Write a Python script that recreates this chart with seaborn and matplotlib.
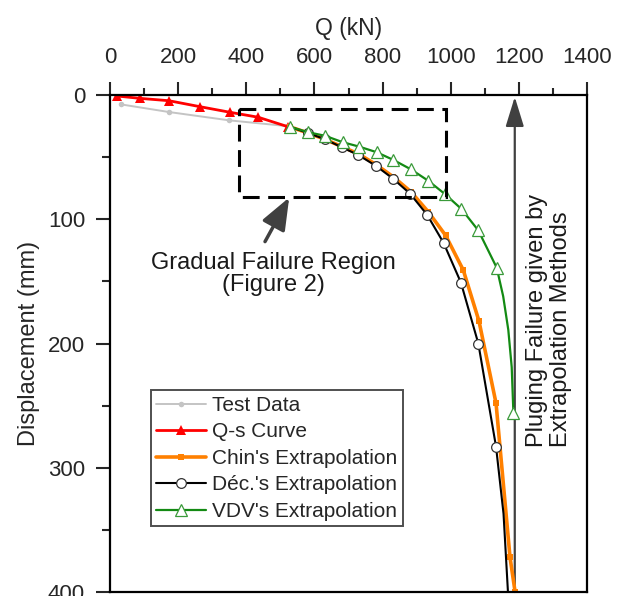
import matplotlib
matplotlib.use("Agg")
import matplotlib.pyplot as plt
from matplotlib.patches import Rectangle
from matplotlib.ticker import MultipleLocator
import seaborn as sns
import pandas as pd

# ---- data ----
test_q = [31, 173, 350, 519]
test_s = [7.5, 13.7, 20.4, 25.0]

qs_q = [20, 88, 173, 264, 352, 435, 522]
qs_s = [0.8, 2.7, 4.6, 9.4, 13.9, 17.9, 25.5]

chin_q = [527, 580, 630, 680, 730, 781, 832, 883, 934, 985, 1037, 1083, 1133, 1174, 1189]
chin_s = [25.5, 30.5, 35.5, 41.5, 47.5, 56.0, 66.0, 77.8, 94.0, 113.0, 141.0, 182.0, 248.0, 372.0, 400.0]

dec_q = [527, 580, 630, 680, 729, 781, 832, 881, 931, 979, 1030, 1081, 1133, 1155, 1168]
dec_s = [25.5, 30.5, 35.5, 42.0, 48.3, 57.1, 67.6, 79.5, 96.5, 119.0, 151.0, 200.0, 283.0, 337.0, 400.0]
dec_marks = [1, 2, 3, 4, 5, 6, 7, 8, 9, 10, 11, 12]

vdv_q = [527, 582, 631, 683, 732, 783, 832, 883, 934, 982, 1031, 1081, 1135, 1154, 1169, 1179, 1184]
vdv_s = [25.5, 30.0, 32.8, 38.0, 41.6, 46.1, 52.3, 59.8, 69.0, 79.5, 91.6, 109.0, 139.0, 162.0, 189.0, 219.0, 256.0]
vdv_marks = [0, 1, 2, 3, 4, 5, 6, 7, 8, 9, 10, 11, 12, 16]

labels = ["Test Data", "Q-s Curve", "Chin's Extrapolation", "Déc.'s Extrapolation", "VDV's Extrapolation"]

x_ticks = [0, 200, 400, 600, 800, 1000, 1200, 1400]
y_ticks = [0, 100, 200, 300, 400]

region_q = (380, 985)
region_s = (11, 82)
plug_q = 1188

sns.set_style("white")
plt.rcParams["font.family"] = ["Liberation Sans", "DejaVu Sans"]

fig = plt.figure(figsize=(6.24, 5.96), dpi=100)
ax = fig.add_axes([110 / 624, 1 - 592 / 596, 477 / 624, 497 / 596])

def df(q, s):
    return pd.DataFrame({"Q": q, "s": s})

sns.lineplot(data=df(test_q, test_s), x="Q", y="s", ax=ax, sort=False, estimator=None,
             color="#c4c4c4", lw=1.4, marker="o", markersize=4, markeredgewidth=0,
             label=labels[0])
sns.lineplot(data=df(qs_q, qs_s), x="Q", y="s", ax=ax, sort=False, estimator=None,
             color="#ff0000", lw=2.0, marker="^", markersize=7, markeredgewidth=0,
             label=labels[1])
sns.lineplot(data=df(chin_q, chin_s), x="Q", y="s", ax=ax, sort=False, estimator=None,
             color="#ff8000", lw=2.6, marker="s", markersize=4, markeredgewidth=0,
             label=labels[2])
sns.lineplot(data=df(dec_q, dec_s), x="Q", y="s", ax=ax, sort=False, estimator=None,
             color="black", lw=1.5, marker="o", markersize=7, markerfacecolor="white",
             markeredgecolor="#333333", markeredgewidth=0.9, markevery=dec_marks,
             label=labels[3])
sns.lineplot(data=df(vdv_q, vdv_s), x="Q", y="s", ax=ax, sort=False, estimator=None,
             color="#138a13", lw=1.6, marker="^", markersize=8, markerfacecolor="white",
             markeredgecolor="#3a9a3a", markeredgewidth=0.9, markevery=vdv_marks,
             label=labels[4])

ax.set_xlim(0, 1400)
ax.set_ylim(400, 0)
ax.xaxis.tick_top()
ax.xaxis.set_label_position("top")
ax.set_xticks(x_ticks)
ax.set_yticks(y_ticks)
ax.xaxis.set_minor_locator(MultipleLocator(100))
ax.yaxis.set_minor_locator(MultipleLocator(50))
ax.tick_params(axis="x", which="major", direction="out", length=9.5, width=1.5,
               labelsize=16, pad=10, top=True, bottom=False)
ax.tick_params(axis="x", which="minor", direction="out", length=5, width=1.5,
               top=True, bottom=False)
ax.tick_params(axis="y", which="major", direction="out", length=10, width=1.5,
               labelsize=16, pad=8, left=True, right=False)
ax.tick_params(axis="y", which="minor", direction="out", length=6, width=1.5,
               left=True, right=False)
for sp in ax.spines.values():
    sp.set_visible(True)
    sp.set_color("black")
    sp.set_linewidth(1.6)

ax.set_xlabel("Q (kN)", fontsize=16.5)
ax.set_ylabel("Displacement (mm)", fontsize=17)
ax.xaxis.set_label_coords(0.5, 1.12)
ax.yaxis.set_label_coords(-0.147, 0.5)

# Gradual failure region box and arrow
ax.add_patch(Rectangle((region_q[0], region_s[0]), region_q[1] - region_q[0],
                       region_s[1] - region_s[0], fill=False, ec="black", lw=2.2,
                       ls=(0, (5.5, 2.8)), zorder=5))
ax.annotate("", xy=(526, 82.5), xytext=(455, 118),
            arrowprops=dict(arrowstyle="-|>,head_length=1.4,head_width=0.55",
                            mutation_scale=14, color="#404040", lw=2.5,
                            shrinkA=0, shrinkB=0))
ax.text(479, 144, "Gradual Failure Region\n(Figure 2)", ha="center", va="center",
        fontsize=17, linespacing=1.0, color="#1a1a1a")

# Plugging failure arrow
ax.annotate("", xy=(plug_q, 1.5), xytext=(plug_q, 400),
            arrowprops=dict(arrowstyle="-|>,head_length=1.3,head_width=0.4",
                            mutation_scale=14, color="#404040", lw=1.6,
                            shrinkA=0, shrinkB=0), zorder=1)
ax.text(1289, 283, "Pluging Failure given by\nExtrapolation Methods", rotation=90,
        ha="center", va="bottom", multialignment="left", fontsize=17,
        linespacing=1.15, color="#1a1a1a")

leg = ax.legend(loc="upper left", bbox_to_anchor=(0.085, 0.406), borderaxespad=0,
                fontsize=15, frameon=True, fancybox=False, handlelength=2.4,
                handletextpad=0.3, labelspacing=0.36, borderpad=0.27)
leg.get_frame().set_edgecolor("#222222")
leg.get_frame().set_linewidth(1.4)

fig.savefig("out.png", dpi=100)
